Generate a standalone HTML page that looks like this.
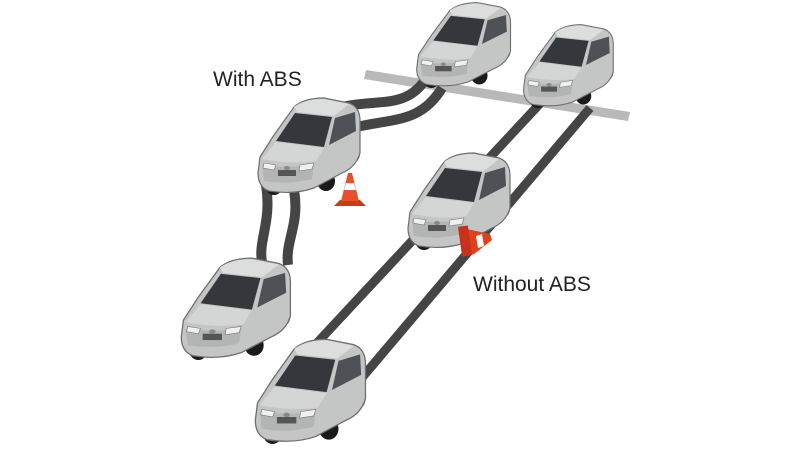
<!DOCTYPE html>
<html><head><meta charset="utf-8"><style>
html,body{margin:0;padding:0;background:#fff;}
svg{display:block;}
</style></head><body>
<svg width="800" height="450" viewBox="0 0 800 450" xmlns="http://www.w3.org/2000/svg">
<defs>
<g id="car">
  <ellipse cx="20" cy="90" rx="9" ry="10" fill="#1a1a1a"/>
  <ellipse cx="72" cy="86" rx="9" ry="10" fill="#1a1a1a"/>
  <ellipse cx="100" cy="58" rx="6" ry="9" fill="#1a1a1a"/>
  <path d="M6,62 L20,40 L40,12 Q50,3 70,3 L95,8 Q106,12 106,26 L106,58 Q102,72 88,78 L60,93 Q40,100 15,96 Q4,92 4,78 Z" fill="#c4c6c6" stroke="#6e6e6e" stroke-width="1.2"/>
  <path d="M40,12 Q50,4 70,4 L95,9 L80,21 L43,17 Z" fill="#dcdddd"/>
  <polygon points="22,46 41,18 78,22 70,52" fill="#34383c"/>
  <polygon points="81,23 101,17 102,36 75,50" fill="#4e5256"/>
  <path d="M8,64 L22,47 L70,53 L62,66 Q40,70 8,64 Z" fill="#d4d5d5"/>
  <path d="M8,70 Q30,74 60,70 L58,84 Q35,90 10,86 Z" fill="#b3b5b5"/>
  <polygon points="10,68 22,70 20,75 9,73" fill="#f0f0f0" stroke="#777" stroke-width="0.6"/>
  <polygon points="46,70 60,68 58,74 45,76" fill="#f0f0f0" stroke="#777" stroke-width="0.6"/>
  <rect x="24" y="75" width="18" height="6" fill="#555"/>
  <ellipse cx="33" cy="73" rx="3" ry="2" fill="#888"/>
</g>
</defs>

<!-- crossing line -->
<polygon points="366,70 630,112 628,121 364,79" fill="#b9b9b9"/>

<!-- Without ABS tracks -->
<line x1="275" y1="388" x2="548" y2="95" stroke="#454545" stroke-width="9"/>
<line x1="360" y1="380" x2="590" y2="108" stroke="#454545" stroke-width="9"/>

<!-- With ABS tracks -->
<g fill="none" stroke="#454545" stroke-width="10">
  <path d="M262,262 C258,240 272,222 266,185"/>
  <path d="M288,265 C285,240 300,225 294,190"/>
  <path d="M338,108 C375,98 405,110 425,80"/>
  <path d="M352,128 C392,118 420,124 442,88"/>
</g>

<!-- cars -->
<use href="#car" transform="translate(413,0) scale(0.92,0.88)"/>
<use href="#car" transform="translate(520,22) scale(0.88,0.86)"/>
<use href="#car" transform="translate(254,95) scale(1.0,1.0)"/>
<use href="#car" transform="translate(404,150) scale(1.0,1.0)"/>
<use href="#car" transform="translate(177,255) scale(1.07,1.05)"/>
<use href="#car" transform="translate(251,336) scale(1.08,1.08)"/>

<!-- cone upright -->
<polygon points="334,206 366,206 360,200 340,200" fill="#c83a1e"/>
<polygon points="341,201 359,201 352,173 348,173" fill="#e8502a"/>
<polygon points="344,190 356,190 354,183 346,183" fill="#fff"/>
<!-- cone fallen -->
<polygon points="462,228 468,256 474,254 492,240 490,234" fill="#e0401e"/>
<rect x="460" y="226" width="10" height="30" fill="#c8321a" transform="rotate(-8 465 241)"/>
<polygon points="476,236 482,234 484,246 478,248" fill="#fff"/>

<text x="213" y="86" font-family="Liberation Sans, sans-serif" font-size="21" fill="#222">With ABS</text>
<text x="473" y="291" font-family="Liberation Sans, sans-serif" font-size="21" fill="#222">Without ABS</text>
</svg>
</body></html>
